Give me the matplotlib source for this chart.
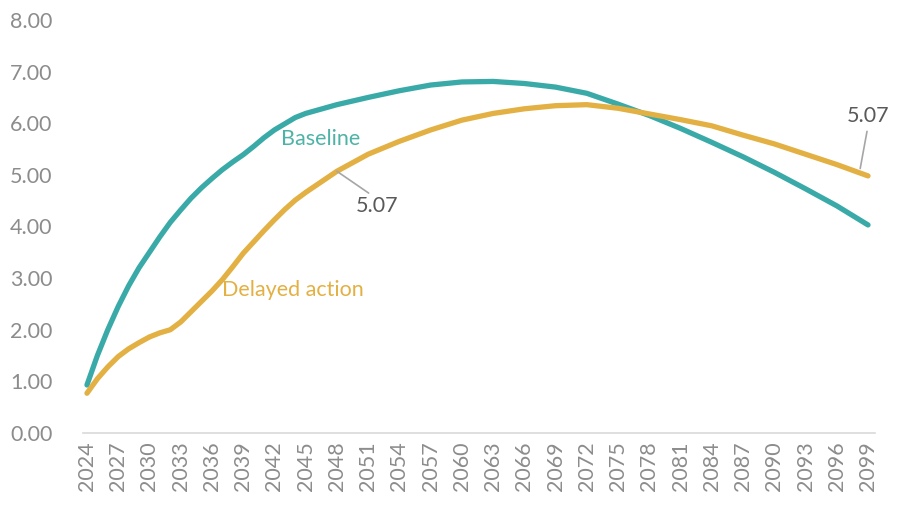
import matplotlib
matplotlib.use("Agg")
import matplotlib.pyplot as plt

# values
years = [2024, 2025, 2026, 2027, 2028, 2029, 2030, 2031, 2032, 2033, 2034, 2035,
         2036, 2037, 2038, 2039, 2040, 2041, 2042, 2043, 2044, 2045, 2048, 2051,
         2054, 2057, 2060, 2063, 2066, 2069, 2072, 2075, 2078, 2081, 2084, 2087,
         2090, 2093, 2096, 2099]
baseline = [0.93, 1.50, 2.00, 2.45, 2.85, 3.20, 3.50, 3.80, 4.08, 4.32, 4.55, 4.75,
            4.93, 5.10, 5.25, 5.39, 5.55, 5.72, 5.87, 5.99, 6.11, 6.19, 6.36, 6.50,
            6.63, 6.74, 6.80, 6.81, 6.77, 6.70, 6.58, 6.37, 6.15, 5.90, 5.63, 5.35,
            5.05, 4.73, 4.40, 4.03]
delayed = [0.77, 1.05, 1.28, 1.48, 1.63, 1.75, 1.86, 1.94, 2.00, 2.15, 2.35, 2.55,
           2.75, 2.97, 3.22, 3.48, 3.70, 3.92, 4.13, 4.33, 4.51, 4.66, 5.07, 5.40,
           5.65, 5.87, 6.06, 6.19, 6.28, 6.34, 6.36, 6.29, 6.18, 6.07, 5.95, 5.77,
           5.60, 5.40, 5.20, 4.98]
tick_years = list(range(2024, 2100, 3))
y_ticks = [0, 1, 2, 3, 4, 5, 6, 7, 8]

teal = "#3AAAA8"
gold = "#E3B043"
grey = "#8C8C8C"

plt.rcParams["font.family"] = ["Lato", "DejaVu Sans"]

fig = plt.figure(figsize=(8.97, 5.12), dpi=100)
ax = fig.add_axes([83 / 897, 79 / 512, 792 / 897, 413 / 512])

ax.plot(years, baseline, color=teal, lw=3.8, solid_capstyle="round", solid_joinstyle="round")
ax.plot(years, delayed, color=gold, lw=3.8, solid_capstyle="round", solid_joinstyle="round")

ax.set_xlim(2023.62, 2099.67)
ax.set_ylim(0, 8)
ax.set_xticks(tick_years)
ax.set_xticklabels([str(y) for y in tick_years], rotation=90)
ax.set_yticks(y_ticks)
ax.set_yticklabels(["{:.2f}".format(v) for v in y_ticks])
ax.tick_params(axis="both", length=0, labelsize=15.5, colors=grey)
ax.tick_params(axis="y", pad=22)
ax.tick_params(axis="x", pad=6)

for s in ["top", "right", "left"]:
    ax.spines[s].set_visible(False)
ax.spines["bottom"].set_color("#D9D9D9")
ax.spines["bottom"].set_linewidth(1.2)

# series labels
ax.text(2042.6, 5.7, "Baseline", color="#4DB3A6", fontsize=15.5, va="center", ha="left")
ax.text(2037.0, 2.77, "Delayed action", color=gold, fontsize=15.5, va="center", ha="left")

# value callouts
ax.annotate("5.07", xy=(2048.0, 5.07), xytext=(2049.8, 4.4), color="#595959",
            fontsize=15.5, ha="left", va="center",
            arrowprops=dict(arrowstyle="-", color="#A6A6A6", lw=1.2,
                            shrinkA=0, shrinkB=0, relpos=(0.4, 1.0)))
ax.annotate("5.07", xy=(2098.2, 5.07), xytext=(2099.0, 5.95), color="#595959",
            fontsize=15.5, ha="center", va="bottom",
            arrowprops=dict(arrowstyle="-", color="#A6A6A6", lw=1.2,
                            shrinkA=2, shrinkB=2, relpos=(0.5, 0.0)))

fig.savefig("out.png", dpi=100)
